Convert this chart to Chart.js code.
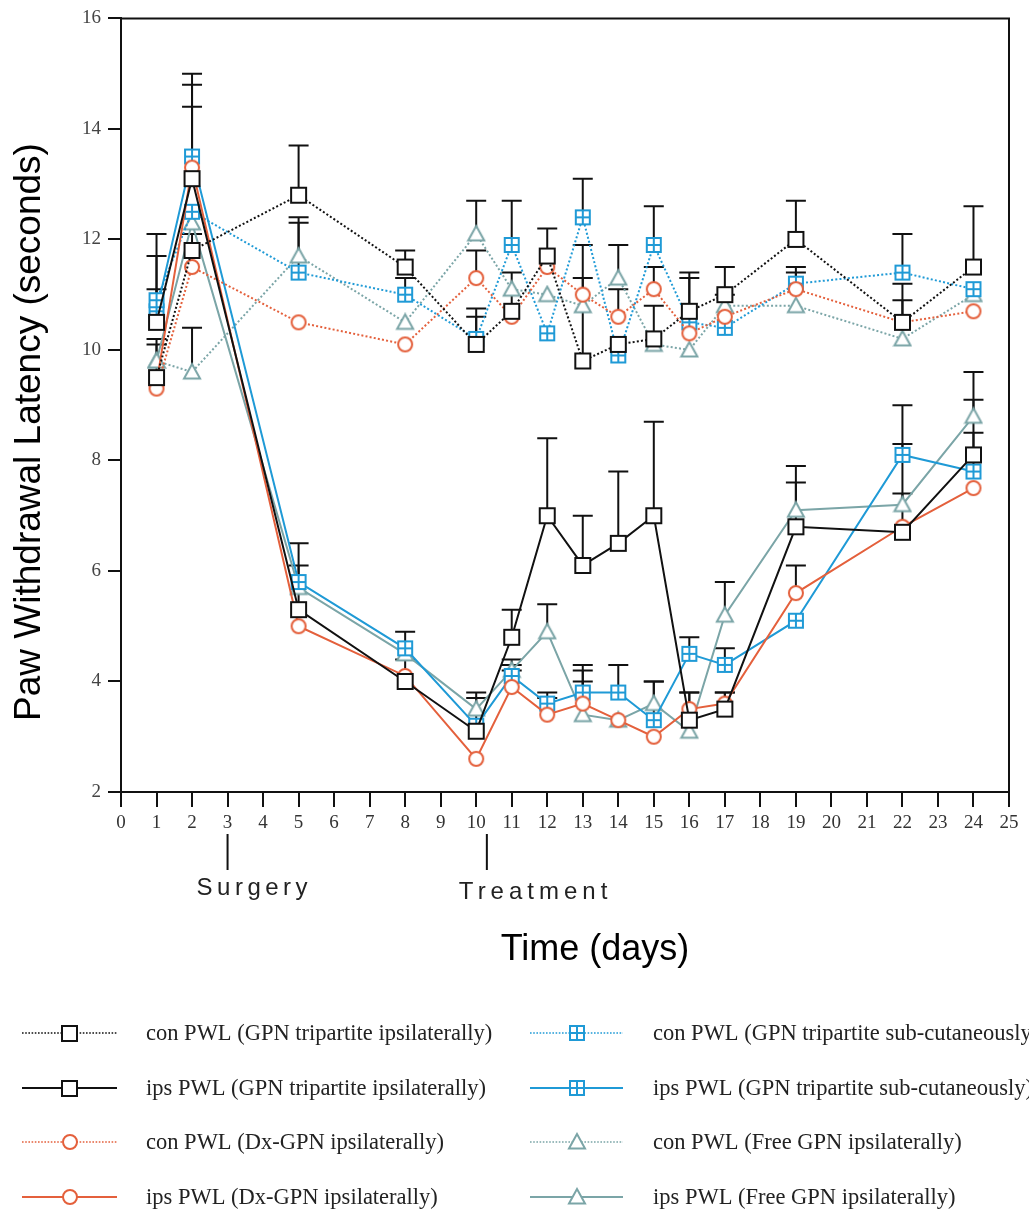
<!DOCTYPE html>
<html><head><meta charset="utf-8">
<script src="https://cdn.jsdelivr.net/npm/chart.js@4.4.0/dist/chart.umd.min.js"></script>
<style>html,body{margin:0;padding:0;background:#fff;}canvas{display:block;}</style>
</head><body>
<canvas id="c" width="1029" height="1213"></canvas>
<script>
// ---- data ----
const days = [1, 2, 5, 8, 10, 11, 12, 13, 14, 15, 16, 17, 19, 22, 24];
const xMin = 0, xMax = 25, xStep = 1;
const yMin = 2, yMax = 16, yStep = 2;

const labels = [
  'con PWL (GPN tripartite ipsilaterally)',
  'ips PWL (GPN tripartite ipsilaterally)',
  'con PWL (Dx-GPN ipsilaterally)',
  'ips PWL (Dx-GPN ipsilaterally)',
  'con PWL (GPN tripartite sub-cutaneously)',
  'ips PWL (GPN tripartite sub-cutaneously)',
  'con PWL (Free GPN ipsilaterally)',
  'ips PWL (Free GPN ipsilaterally)'
];

const conTriMean  = [9.5, 11.8, 12.8, 11.5, 10.1, 10.7, 11.7, 9.8, 10.1, 10.2, 10.7, 11.0, 12.0, 10.5, 11.5];
const conTriErr   = [0.7, 0.3, 0.9, 0.3, 0.65, 0.7, 0.5, 2.1, null, 0.6, 0.7, 0.5, 0.7, 0.4, 1.1];
const ipsTriMean  = [10.5, 13.1, 5.3, 4.0, 3.1, 4.8, 7.0, 6.1, 6.5, 7.0, 3.3, 3.5, 6.8, 6.7, 8.1];
const ipsTriErr   = [1.6, 1.9, 0.8, 0.4, 0.7, 0.5, 1.4, 0.9, 1.3, 1.7, 0.5, 0.3, 0.8, 1.6, 1.0];
const conDxMean   = [9.3, 11.5, 10.5, 10.1, 11.3, 10.6, 11.5, 11.0, 10.6, 11.1, 10.3, 10.6, 11.1, 10.5, 10.7];
const conDxErr    = [null, null, null, null, 0.5, null, null, 0.3, 0.5, 0.4, null, null, 0.3, 0.7, null];
const ipsDxMean   = [9.4, 13.3, 5.0, 4.1, 2.6, 3.9, 3.4, 3.6, 3.3, 3.0, 3.5, 3.6, 5.6, 6.8, 7.5];
const ipsDxErr    = [null, 1.1, null, null, null, 0.3, 0.3, 0.4, null, null, 0.3, 0.2, 0.5, null, null];
const conSubMean  = [10.9, 12.5, 11.4, 11.0, 10.2, 11.9, 10.3, 12.4, 9.9, 11.9, 10.5, 10.4, 11.2, 11.4, 11.1];
const conSubErr   = [0.8, null, 0.9, 0.3, 0.4, 0.8, null, 0.7, null, 0.7, 0.8, null, 0.3, 0.7, null];
const ipsSubMean  = [10.7, 13.5, 5.8, 4.6, 3.2, 4.1, 3.6, 3.8, 3.8, 3.3, 4.5, 4.3, 5.1, 8.1, 7.8];
const ipsSubErr   = [0.4, 1.3, 0.7, 0.3, null, 0.3, 0.2, 0.5, 0.5, 0.7, 0.3, 0.3, null, 0.9, 0.7];
const conFreeMean = [9.8, 9.6, 11.7, 10.5, 12.1, 11.1, 11.0, 10.8, 11.3, 10.1, 10.0, 10.8, 10.8, 10.2, 11.0];
const conFreeErr  = [0.3, 0.8, 0.7, null, 0.6, null, null, null, 0.6, null, null, 0.2, null, null, null];
const ipsFreeMean = [9.8, 12.3, 5.7, 4.5, 3.5, 4.2, 4.9, 3.4, 3.3, 3.6, 3.1, 5.2, 7.1, 7.2, 8.8];
const ipsFreeErr  = [null, null, null, null, 0.2, 0.1, 0.5, 0.8, null, 0.4, null, 0.6, 0.8, 0.2, 0.8];

const surgeryDay = 3, treatmentDay = 10.3;

// ---- styles ----
const BLACK = '#111111', RED = '#e4603c', BLUE = '#1f9ad6', TEAL = '#7ba5a7';
const DOT = [2, 2.2];

function marker(shape, color, s) {
  const S = s + 4, m = S / 2;
  const c = document.createElement('canvas');
  c.width = S; c.height = S;
  const g = c.getContext('2d');
  g.lineWidth = 2; g.strokeStyle = color; g.fillStyle = '#fff';
  g.beginPath();
  if (shape === 'square' || shape === 'plus') g.rect(m - s / 2, m - s / 2, s, s);
  else if (shape === 'circle') g.arc(m, m, s / 2, 0, Math.PI * 2);
  else if (shape === 'triangle') { g.moveTo(m, m - s / 2); g.lineTo(m + s / 2, m + s * 0.4); g.lineTo(m - s / 2, m + s * 0.4); g.closePath(); }
  g.fill(); g.stroke();
  if (shape === 'plus') {
    g.beginPath(); g.moveTo(m, m - s / 2); g.lineTo(m, m + s / 2);
    g.moveTo(m - s / 2, m); g.lineTo(m + s / 2, m); g.stroke();
  }
  return c;
}

const specs = [
  { mean: conTriMean,  err: conTriErr,  color: BLACK, dash: DOT, shape: 'square' },
  { mean: ipsTriMean,  err: ipsTriErr,  color: BLACK, dash: [],  shape: 'square' },
  { mean: conDxMean,   err: conDxErr,   color: RED,   dash: DOT, shape: 'circle' },
  { mean: ipsDxMean,   err: ipsDxErr,   color: RED,   dash: [],  shape: 'circle' },
  { mean: conSubMean,  err: conSubErr,  color: BLUE,  dash: DOT, shape: 'plus' },
  { mean: ipsSubMean,  err: ipsSubErr,  color: BLUE,  dash: [],  shape: 'plus' },
  { mean: conFreeMean, err: conFreeErr, color: TEAL,  dash: DOT, shape: 'triangle' },
  { mean: ipsFreeMean, err: ipsFreeErr, color: TEAL,  dash: [],  shape: 'triangle' }
];
const shapeSize = { square: 15, circle: 14, plus: 14, triangle: 16 };

const datasets = specs.map((s, i) => ({
  label: labels[i],
  data: days.map((d, j) => ({ x: d, y: s.mean[j] })),
  borderColor: s.color,
  backgroundColor: '#fff',
  borderWidth: 2,
  borderDash: s.dash,
  pointStyle: marker(s.shape, s.color, shapeSize[s.shape]),
  legendMarker: marker(s.shape, s.color, shapeSize[s.shape]),
  pointRadius: 8,
  fill: false,
  tension: 0
}));

const errorBars = {
  id: 'errorBars',
  beforeDatasetsDraw(chart) {
    const ctx = chart.ctx, xs = chart.scales.x, ys = chart.scales.y;
    ctx.save();
    ctx.strokeStyle = '#111'; ctx.lineWidth = 2;
    specs.forEach(s => {
      days.forEach((d, j) => {
        const e = s.err[j];
        if (e == null) return;
        const x = xs.getPixelForValue(d);
        const y0 = ys.getPixelForValue(s.mean[j]);
        const y1 = ys.getPixelForValue(s.mean[j] + e);
        ctx.beginPath();
        ctx.moveTo(x, y0); ctx.lineTo(x, y1);
        ctx.moveTo(x - 10, y1); ctx.lineTo(x + 10, y1);
        ctx.stroke();
      });
    });
    ctx.restore();
  }
};

const decorations = {
  id: 'decorations',
  afterDraw(chart) {
    const ctx = chart.ctx, a = chart.chartArea, xs = chart.scales.x;
    ctx.save();
    ctx.strokeStyle = '#111'; ctx.lineWidth = 2;
    ctx.beginPath();
    ctx.moveTo(a.left, a.top); ctx.lineTo(a.right, a.top); ctx.lineTo(a.right, a.bottom);
    ctx.stroke();
    const sx = xs.getPixelForValue(surgeryDay), tx = xs.getPixelForValue(treatmentDay);
    ctx.beginPath();
    ctx.moveTo(sx, 834); ctx.lineTo(sx, 870);
    ctx.moveTo(tx, 834); ctx.lineTo(tx, 870);
    ctx.stroke();
    ctx.fillStyle = '#222';
    ctx.font = '24px "Liberation Sans", Arial, sans-serif';
    ctx.textBaseline = 'middle';
    ctx.textAlign = 'left';
    ctx.letterSpacing = '4.5px';
    ctx.fillText('Surgery', sx - 31, 888);
    ctx.letterSpacing = '5px';
    ctx.fillText('Treatment', tx - 28, 892);
    ctx.letterSpacing = '0px';
    ctx.fillStyle = '#000';
    ctx.font = '36px "Liberation Sans", Arial, sans-serif';
    ctx.textAlign = 'center';
    ctx.fillText('Time (days)', 595, 950);
    ctx.save();
    ctx.translate(30, 432);
    ctx.rotate(-Math.PI / 2);
    ctx.font = '37px "Liberation Sans", Arial, sans-serif';
    ctx.fillText('Paw Withdrawal Latency (seconds)', 0, 0);
    ctx.restore();
    const rows = [1033, 1088, 1142, 1197];
    const cols = [{ x1: 22, x2: 117, tx: 146 }, { x1: 530, x2: 623, tx: 653 }];
    ctx.font = '22.5px "Liberation Serif", "Times New Roman", serif';
    ctx.textAlign = 'left';
    chart.data.datasets.forEach((ds, i) => {
      const col = cols[Math.floor(i / 4)], y = rows[i % 4];
      ctx.strokeStyle = ds.borderColor;
      ctx.lineWidth = ds.borderDash.length ? 1.6 : 2;
      ctx.setLineDash(ds.borderDash.length ? [1.6, 1.6] : []);
      ctx.beginPath(); ctx.moveTo(col.x1, y); ctx.lineTo(col.x2, y); ctx.stroke();
      ctx.setLineDash([]);
      const img = ds.legendMarker, mx = (col.x1 + col.x2) / 2;
      ctx.drawImage(img, Math.round(mx - img.width / 2), Math.round(y - img.height / 2));
      ctx.fillStyle = '#222';
      ctx.fillText(ds.label, col.tx, y + 1);
    });
    ctx.restore();
  }
};

new Chart(document.getElementById('c'), {
  type: 'line',
  data: { datasets },
  options: {
    responsive: false,
    animation: false,
    devicePixelRatio: 1,
    layout: { padding: { left: 0, top: 15, right: 20, bottom: 381 } },
    plugins: { legend: { display: false }, tooltip: { enabled: false } },
    scales: {
      x: {
        type: 'linear', min: xMin, max: xMax,
        afterFit(s) { s.height = 40; },
        ticks: { stepSize: xStep, autoSkip: false, maxRotation: 0, padding: 5, color: '#333',
                 font: { family: '"Liberation Serif", "Times New Roman", serif', size: 19 } },
        grid: { display: true, drawOnChartArea: false, drawTicks: true, tickLength: 15, color: '#111', lineWidth: 2 },
        border: { display: true, color: '#111', width: 2 }
      },
      y: {
        type: 'linear', min: yMin, max: yMax,
        afterFit(s) { s.width = 121; },
        ticks: { stepSize: yStep, padding: 7, color: '#444',
                 font: { family: '"Liberation Serif", "Times New Roman", serif', size: 19 } },
        grid: { display: true, drawOnChartArea: false, drawTicks: true, tickLength: 13, color: '#111', lineWidth: 2 },
        border: { display: true, color: '#111', width: 2 }
      }
    }
  },
  plugins: [errorBars, decorations]
});
</script>
</body></html>
